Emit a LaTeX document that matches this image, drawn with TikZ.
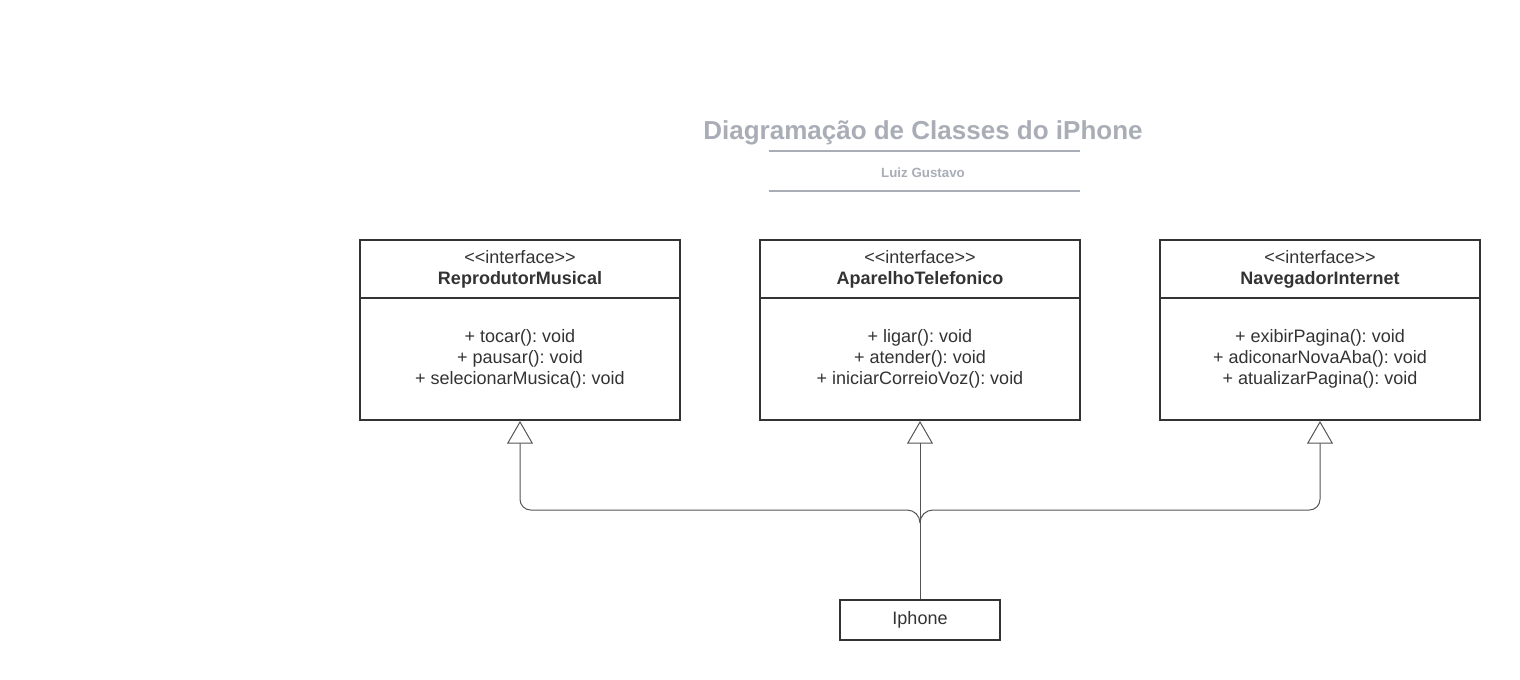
\documentclass[tikz,border=0pt]{standalone}
\usepackage{fontspec}
\setmainfont{Liberation Sans}
\usetikzlibrary{arrows.meta}
\frenchspacing

\definecolor{ink}{HTML}{333333}
\definecolor{wire}{HTML}{555555}
\definecolor{muted}{HTML}{A9ADB6}

\newcommand{\stereo}{<{}<interface>{}>}

\tikzset{
  classbox/.style={draw=ink, line width=1.5pt, minimum width=240pt, minimum height=135pt, inner sep=0pt},
  leafbox/.style={draw=ink, line width=1.5pt, minimum width=120pt, minimum height=30pt, inner sep=0pt},
  txt/.style={text=ink, align=center, font=\fontsize{13.5}{15.75}\selectfont},
  realizes/.style={draw=wire, line width=0.75pt, -{Triangle[open, length=17pt, width=19.5pt, line width=0.75pt]}}
}

\begin{document}
\begin{tikzpicture}[x=0.75pt, y=-0.75pt]
      \useasboundingbox (0,0) rectangle (1520,680);

      \node[text=muted, font=\bfseries\fontsize{19.5}{24}\selectfont] (title) at (923,133) {Diagramação de Classes do iPhone};
      \draw[muted, line width=1.5pt] (769,151) -- (1080,151);
      \node[text=muted, font=\bfseries\fontsize{10}{12}\selectfont] (author) at (923,172.5) {Luiz Gustavo};
      \draw[muted, line width=1.5pt] (769,191) -- (1080,191);

      \node[classbox] (R) at (520,330) {};
      \draw[ink, line width=1.5pt] (R.north west) ++(0,59) -- ++(320,0);
      \node[txt] (Rh) at (520,269.5) {\stereo\\\textbf{ReprodutorMusical}};
      \node[txt] (Rm) at (520,359) {+ tocar(): void\\+ pausar(): void\\+ selecionarMusica(): void};

      \node[classbox] (A) at (920,330) {};
      \draw[ink, line width=1.5pt] (A.north west) ++(0,59) -- ++(320,0);
      \node[txt] (Ah) at (920,269.5) {\stereo\\\textbf{AparelhoTelefonico}};
      \node[txt] (Am) at (920,359) {+ ligar(): void\\+ atender(): void\\+ iniciarCorreioVoz(): void};

      \node[classbox] (N) at (1320,330) {};
      \draw[ink, line width=1.5pt] (N.north west) ++(0,59) -- ++(320,0);
      \node[txt] (Nh) at (1320,269.5) {\stereo\\\textbf{NavegadorInternet}};
      \node[txt] (Nm) at (1320,359) {+ exibirPagina(): void\\+ adiconarNovaAba(): void\\+ atualizarPagina(): void};

      \node[leafbox, txt] (I) at (920,620) {Iphone};

      \coordinate (fork) at (920,523);
      \draw[realizes] (I.north) -- (A.south);
      \draw[realizes] (fork) to[out=90, in=0] (907,510) [rounded corners=8] -- (520,510) -- (R.south);
      \draw[realizes] (fork) to[out=90, in=180] (933,510) [rounded corners=8] -- (1320,510) -- (N.south);
    \end{tikzpicture}
\end{document}
